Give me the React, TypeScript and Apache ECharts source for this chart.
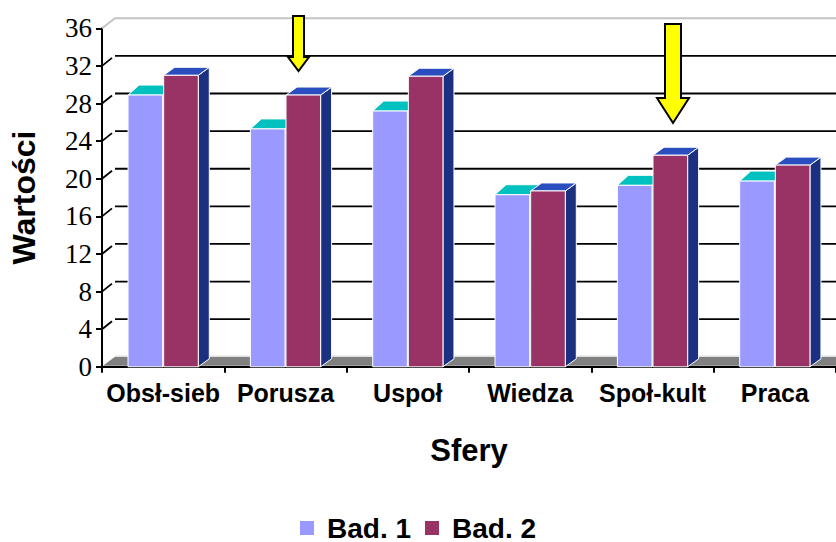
import React, { useEffect, useRef } from "react";
import * as echarts from "echarts";

const categories = ["Obsł-sieb", "Porusza", "Uspoł", "Wiedza", "Społ-kult", "Praca"];
const bad1 = [28.9, 25.3, 27.2, 18.3, 19.3, 19.75];
const bad2 = [31.0, 28.9, 30.9, 18.7, 22.5, 21.45];
const wallTicks = [0, 4, 8, 12, 16, 20, 24, 28, 32, 36];

const BAR_DX = 11;
const BAR_DY = 8;
const WALL_DX = 13;
const WALL_DY = 10;
const BAR_RATIO = 0.283;

const barRenderer = (index: number, front: string, top: string, side: string, topDy: number) => (params: any, api: any) => {
  const p = api.coord([api.value(0), api.value(1)]);
  const base = api.coord([api.value(0), 0]);
  const w = api.size([1, 0])[0] * BAR_RATIO;
  const x0 = p[0] + (index === 0 ? -w : 0) + (index === 0 ? -0.5 : 0.5);
  const x1 = x0 + w;
  const stroke = { stroke: "#ffffff", lineWidth: 1 };
  return {
    type: "group",
    children: [
      {
        type: "polygon",
        shape: { points: [[x1, p[1]], [x1 + BAR_DX, p[1] - BAR_DY], [x1 + BAR_DX, base[1] - BAR_DY], [x1, base[1]]] },
        style: { fill: side, ...stroke },
      },
      {
        type: "polygon",
        shape: { points: [[x0, p[1]], [x0 + BAR_DX, p[1] - topDy], [x1 + BAR_DX, p[1] - topDy], [x1, p[1]]] },
        style: { fill: top, ...stroke },
      },
      {
        type: "rect",
        shape: { x: x0, y: p[1], width: w, height: base[1] - p[1] },
        style: { fill: front, ...stroke },
      },
    ],
  };
};

const wallRenderer = (params: any, api: any) => {
  const v = api.value(1);
  const p = api.coord([0, v]);
  const left = params.coordSys.x;
  const right = params.coordSys.x + params.coordSys.width;
  const y = p[1];
  const children: any[] = [];
  if (v === 0) {
    children.push({
      type: "polygon",
      shape: { points: [[left + 1, y - 1], [left + WALL_DX, y - WALL_DY], [right, y - WALL_DY], [right, y - 1]] },
      style: { fill: "#808080" },
    });
    children.push({
      type: "line",
      shape: { x1: left + WALL_DX, y1: y - WALL_DY - 1, x2: right, y2: y - WALL_DY - 1 },
      style: { stroke: "#e6e6e6", lineWidth: 1 },
    });
  } else if (v === 36) {
    children.push({
      type: "polyline",
      shape: { points: [[left, y], [left + WALL_DX, y - WALL_DY], [right, y - WALL_DY]] },
      style: { stroke: "#c4c4c4", lineWidth: 2, fill: "none" },
    });
  } else {
    children.push({
      type: "line",
      shape: { x1: left, y1: y, x2: left + 10, y2: y - 8 },
      style: { stroke: "#000000", lineWidth: 1.8 },
    });
    children.push({
      type: "line",
      shape: { x1: left + WALL_DX, y1: y - WALL_DY, x2: right, y2: y - WALL_DY },
      style: { stroke: "#000000", lineWidth: 1.8 },
    });
  }
  return { type: "group", children };
};

const arrow = (xl: number, xr: number, top: number, neck: number, hl: number, hr: number, tip: number) => ({
  type: "polygon",
  z: 100,
  shape: {
    points: [[xl, top], [xr, top], [xr, neck], [hr, neck], [(hl + hr) / 2, tip], [hl, neck], [xl, neck]],
  },
  style: { fill: "#ffff00", stroke: "#000000", lineWidth: 2 },
});

export default function App() {
  const ref = useRef<HTMLDivElement>(null);
  useEffect(() => {
    const chart = echarts.init(ref.current!, null, { renderer: "svg" });
    chart.setOption({
      animation: false,
      backgroundColor: "#ffffff",
      grid: { left: 101.5, top: 28.3, width: 737, height: 338.5, containLabel: false },
      legend: {
        data: ["Bad. 1", "Bad. 2"],
        icon: "rect",
        left: 300,
        top: 514,
        padding: 0,
        itemWidth: 14,
        itemHeight: 14,
        itemGap: 14,
        textStyle: { fontFamily: "Liberation Sans", fontWeight: "bold", fontSize: 28, color: "#000", padding: [0, 0, 0, 8] },
      },
      xAxis: {
        type: "category",
        data: categories,
        name: "Sfery",
        nameLocation: "middle",
        nameGap: 68,
        nameTextStyle: { fontFamily: "Liberation Sans", fontWeight: "bold", fontSize: 31, color: "#000" },
        axisLine: { lineStyle: { color: "#000", width: 2 } },
        axisTick: { show: true, length: 6, lineStyle: { color: "#000", width: 2 } },
        axisLabel: { interval: 0, margin: 14, fontFamily: "Liberation Sans", fontWeight: "bold", fontSize: 25, color: "#000" },
      },
      yAxis: {
        type: "value",
        min: 0,
        max: 36,
        interval: 4,
        name: "Wartości",
        nameLocation: "middle",
        nameGap: 62,
        nameTextStyle: { fontFamily: "Liberation Sans", fontWeight: "bold", fontSize: 32, color: "#000" },
        splitLine: { show: false },
        axisLine: { show: true, lineStyle: { color: "#000", width: 2 } },
        axisTick: { show: true, length: 6, lineStyle: { color: "#000", width: 2 } },
        axisLabel: { margin: 10, fontFamily: "Liberation Serif", fontSize: 27, color: "#000" },
      },
      series: [
        {
          type: "custom",
          name: "Ściana",
          z: 1,
          silent: true,
          renderItem: wallRenderer,
          encode: { x: 0, y: 1 },
          data: wallTicks.map((t) => [0, t]),
        },
        {
          type: "custom",
          name: "Bad. 1",
          z: 2,
          itemStyle: { color: "#9999ff" },
          renderItem: barRenderer(0, "#9999ff", "#00c0c0", "#008c8c", 10),
          encode: { x: 0, y: 1 },
          data: bad1.map((v, i) => [i, v]),
        },
        {
          type: "custom",
          name: "Bad. 2",
          z: 3,
          itemStyle: { color: "#993366" },
          renderItem: barRenderer(1, "#993366", "#2a4ec0", "#1b3080", 8),
          encode: { x: 0, y: 1 },
          data: bad2.map((v, i) => [i, v]),
        },
      ],
      graphic: [arrow(293, 304, 16, 57, 288, 309, 71), arrow(665, 681, 24, 98, 657, 689, 123)],
    });
    return () => chart.dispose();
  }, []);
  return <div ref={ref} style={{ position: "absolute", left: 0, top: 0, width: 836, height: 542 }} />;
}
